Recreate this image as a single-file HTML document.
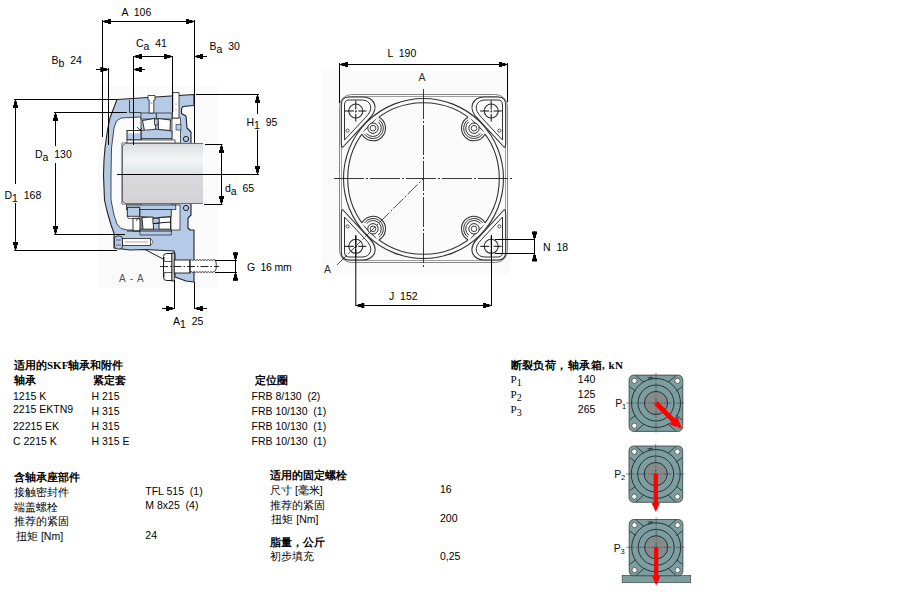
<!DOCTYPE html>
<html><head><meta charset="utf-8"><style>
html,body{margin:0;padding:0;background:#fff;width:900px;height:600px;overflow:hidden}
svg{display:block} text{white-space:pre}
</style></head><body>
<svg width="900" height="600" viewBox="0 0 900 600">
<rect width="900" height="600" fill="#fff"/>
<defs><pattern id="hatch" width="4" height="4" patternUnits="userSpaceOnUse"><rect width="4" height="4" fill="#fbfbfb"/><path d="M0,4 L4,0" stroke="#f1f1f1" stroke-width="0.6" stroke-dasharray="1,0.8"/></pattern></defs><rect x="98" y="86" width="120" height="202" fill="url(#hatch)"/>
<polygon points="117,99.5 194,94.5 194,105.5 183,106.5 181.5,108.5 181.5,113.5 186,116 187,128 191,132 191,143 191,204 191,215 188,218 188,228 190,230 194,230 194,282 186,281 175,277 175,254 174,251 145,249.5 130,250 122,249 114,248 114,233 111,225 107,211 104.5,200 103.5,175 104,160 105,148 107.5,130 110,118 113,110" fill="#b4cae6" stroke="#222" stroke-width="1.1" stroke-linejoin="round"/>
<polygon points="141,117 121,118 116.5,121 114,128 111.5,148 111,175 111,200 114,215 117,224 121,228.5 127,230 141,230 141,204 122,204 122,143 141,143" fill="#fafafa" stroke="#222" stroke-width="0.8" stroke-linejoin="round"/>
<path d="M129.5,100 V112.5 H141" fill="none" stroke="#222" stroke-width="0.8"/>
<rect x="172" y="118" width="8.5" height="25" rx="0" fill="#fafafa" stroke="#222" stroke-width="0.7"/>
<rect x="176" y="124.5" width="5" height="5.5" rx="0" fill="#b4cae6" stroke="#222" stroke-width="0.6"/>
<rect x="171" y="205" width="9" height="25" rx="0" fill="#fafafa" stroke="#222" stroke-width="0.7"/>
<rect x="141" y="113" width="31" height="6" rx="0" fill="#b4cae6" stroke="#1a1a1a" stroke-width="0.7"/>
<path d="M142.5,120.5 L154.5,118.5 L156,129 L144.5,131 Z" fill="#fff" stroke="#1a1a1a" stroke-width="0.9"/>
<path d="M158,118.5 L170.5,120 L170,130.5 L158.5,129.5 Z" fill="#fff" stroke="#1a1a1a" stroke-width="0.9"/>
<path d="M154.5,119 h3.5 v6 h-3.5 z" fill="#b4cae6" stroke="#1a1a1a" stroke-width="0.7"/>
<line x1="156.3" y1="113" x2="156.3" y2="119" stroke="#1a1a1a" stroke-width="0.9" />
<path d="M141,130.5 Q156,128 172,131 V138.5 H141 Z" fill="#b4cae6" stroke="#1a1a1a" stroke-width="0.7"/>
<rect x="127" y="130.5" width="14" height="9.5" rx="0" fill="#b4cae6" stroke="#1a1a1a" stroke-width="0.9"/>
<rect x="128" y="131" width="12" height="2.2" rx="0" fill="#fff" stroke="none" stroke-width="0"/>
<rect x="127" y="140" width="48" height="3" rx="0" fill="#fff" stroke="#1a1a1a" stroke-width="0.7"/>
<path d="M137,127 l3,3 l2,-2" fill="none" stroke="#1a1a1a" stroke-width="0.8"/>
<rect x="126.3" y="205" width="49.5" height="4.7" rx="0" fill="#b4cae6" stroke="#1a1a1a" stroke-width="0.7"/>
<rect x="127.3" y="207.3" width="12.4" height="9" rx="0" fill="#b4cae6" stroke="#1a1a1a" stroke-width="0.9"/>
<rect x="128" y="216.3" width="11" height="2" rx="0" fill="#fff" stroke="#1a1a1a" stroke-width="0.6"/>
<rect x="133" y="218.3" width="7" height="12.7" rx="0" fill="#fff" stroke="#1a1a1a" stroke-width="0.9"/>
<path d="M140,209.5 H171.3 V216.5 Q156,219 140,216.5 Z" fill="#b4cae6" stroke="#1a1a1a" stroke-width="0.7"/>
<path d="M142,217.5 L153,217 L153.5,229.3 L143,229.3 Z" fill="#fff" stroke="#1a1a1a" stroke-width="0.9"/>
<path d="M159,217.5 L170.5,217 L170.5,229.3 L159,229.3 Z" fill="#fff" stroke="#1a1a1a" stroke-width="0.9"/>
<path d="M153,218.5 h6 v5 h-6 z" fill="#b4cae6" stroke="#1a1a1a" stroke-width="0.7"/>
<line x1="153" y1="223.5" x2="170.5" y2="222" stroke="#1a1a1a" stroke-width="1.1" />
<path d="M140,229.3 H171.3 V235 H140 Z" fill="#b4cae6" stroke="#1a1a1a" stroke-width="0.7"/>
<line x1="127" y1="231" x2="172" y2="231" stroke="#1a1a1a" stroke-width="0.9" />
<path d="M136,221 l2,-3 l2,2" fill="none" stroke="#1a1a1a" stroke-width="0.8"/>
<path d="M148,95.5 h7 v4.5 h-1.2 v13 h-4.6 v-13 h-1.2 z" fill="#fff" stroke="#222" stroke-width="0.8"/>
<path d="M172.5,92.5 h6.5 v25.5 h-6.5 z" fill="#fff" stroke="#222" stroke-width="0.8"/>
<line x1="172.6" y1="92" x2="172.6" y2="112" stroke="#111" stroke-width="1.2" />
<line x1="150.5" y1="103" x2="152.5" y2="103" stroke="#222" stroke-width="0.6" />
<line x1="175" y1="104" x2="177" y2="104" stroke="#555" stroke-width="0.5" />
<line x1="175" y1="110" x2="177" y2="110" stroke="#555" stroke-width="0.5" />
<circle cx="186" cy="139" r="2.6" fill="none" stroke="#222" stroke-width="1"/>
<circle cx="186" cy="208" r="2.6" fill="none" stroke="#222" stroke-width="1"/>
<rect x="122.5" y="238.5" width="28" height="7" rx="0" fill="#fff" stroke="#222" stroke-width="0.8"/>
<line x1="125" y1="242" x2="148" y2="242" stroke="#555" stroke-width="0.5" />
<polygon points="150.5,238.5 153,242 150.5,245.5" fill="#fff" stroke="#222" stroke-width="0.6"/>
<rect x="114.5" y="236" width="8" height="13" rx="3" fill="#b4cae6" stroke="#222" stroke-width="0.9"/>
<line x1="116" y1="240" x2="121" y2="240" stroke="#222" stroke-width="0.6" />
<line x1="116" y1="245" x2="121" y2="245" stroke="#222" stroke-width="0.6" />
<line x1="145" y1="249.5" x2="164" y2="259.5" stroke="#222" stroke-width="1" />
<defs><linearGradient id="sh" x1="0" y1="0" x2="0" y2="1"><stop offset="0" stop-color="#d6d6d6"/><stop offset="0.15" stop-color="#e2e4e6"/><stop offset="0.55" stop-color="#f2f4f4"/><stop offset="1" stop-color="#e0e4e6"/></linearGradient><linearGradient id="sh2" x1="0" y1="0" x2="0" y2="1"><stop offset="0" stop-color="#dadade"/><stop offset="1" stop-color="#d2d2d4"/></linearGradient></defs>
<rect x="122.5" y="143" width="80.5" height="31" fill="url(#sh)"/>
<rect x="122.5" y="174" width="80.5" height="30" fill="url(#sh2)"/>
<path d="M125,143.5 H203 M122.5,146 V201 M125,203.5 H203" stroke="#555" stroke-width="0.8" fill="none"/>
<path d="M122.5,146 L125,143.5 M122.5,201 L125,203.5" stroke="#444" stroke-width="0.8"/>
<path d="M166.5,253.5 h5.5 v27 h-5.5 q-3,0 -3,-3 v-21 q0,-3 3,-3 z" fill="#fff" stroke="#1a1a1a" stroke-width="1"/>
<line x1="163.5" y1="261.5" x2="172" y2="261.5" stroke="#333" stroke-width="0.8" />
<line x1="163.5" y1="272.5" x2="172" y2="272.5" stroke="#333" stroke-width="0.8" />
<path d="M165,257 q-1.5,3 0,4.5 M165,273 q-1.5,3 0,4.5" fill="none" stroke="#333" stroke-width="0.6"/>
<rect x="172" y="253" width="2.2" height="28" rx="0" fill="#fff" stroke="#111" stroke-width="0.9"/>
<rect x="174.2" y="260" width="15.8" height="13" rx="0" fill="#fff" stroke="#1a1a1a" stroke-width="0.9"/>
<path d="M190,260.5 l1.4,-0.9 l1.4,0.9 l1.4,-0.9 l1.4,0.9 l1.4,-0.9 l1.4,0.9 l1.4,-0.9 l1.4,0.9 l1.4,-0.9 l1.4,0.9 l1.4,-0.9 l1.4,0.9 l1.4,-0.9 l1.4,0.9 l1.4,-0.9 l1.4,0.9 l1.4,-0.9 q2.5,0 2.5,6 q0,6 -2.5,6 l-1.4,0.9 l-1.4,-0.9 l-1.4,0.9 l-1.4,-0.9 l-1.4,0.9 l-1.4,-0.9 l-1.4,0.9 l-1.4,-0.9 l-1.4,0.9 l-1.4,-0.9 l-1.4,0.9 l-1.4,-0.9 l-1.4,0.9 l-1.4,-0.9 l-1.4,0.9 l-1.4,-0.9 l-1.4,0.9z" fill="#fff" stroke="#222" stroke-width="0.9"/>
<line x1="190" y1="260" x2="190" y2="273" stroke="#222" stroke-width="0.9" />
<line x1="160" y1="266.5" x2="219" y2="266.5" stroke="#111" stroke-width="0.9" stroke-dasharray="8,2,1.5,2"/>
<text x="119" y="281.5" font-family="Liberation Sans, sans-serif" font-size="10" font-weight="normal" fill="#555" letter-spacing="0.9">A - A</text>
<line x1="102.5" y1="20" x2="102.5" y2="137" stroke="#000" stroke-width="1" />
<line x1="194.5" y1="20" x2="194.5" y2="143" stroke="#000" stroke-width="1" />
<line x1="102.5" y1="21.5" x2="194.5" y2="21.5" stroke="#000" stroke-width="1" />
<polygon points="103.00,21.80 104.50,22.10 104.50,23.00 108.00,23.00 108.00,24.00 111.00,24.00 111.00,19.00 108.00,19.00 108.00,20.00 104.50,20.00 104.50,20.90 103.00,21.20" fill="#000"/>
<polygon points="194.00,21.80 192.50,22.10 192.50,23.00 189.00,23.00 189.00,24.00 186.00,24.00 186.00,19.00 189.00,19.00 189.00,20.00 192.50,20.00 192.50,20.90 194.00,21.20" fill="#000"/>
<text x="121.5" y="16" font-family="Liberation Sans, sans-serif" font-size="10.5" font-weight="normal" fill="#000" >A  106</text>
<line x1="108.5" y1="68" x2="108.5" y2="145" stroke="#000" stroke-width="1" />
<line x1="96" y1="69.5" x2="108.5" y2="69.5" stroke="#000" stroke-width="1" />
<polygon points="108.30,69.80 106.80,70.10 106.80,71.00 103.30,71.00 103.30,72.00 100.30,72.00 100.30,67.00 103.30,67.00 103.30,68.00 106.80,68.00 106.80,68.90 108.30,69.20" fill="#000"/>
<text x="51.5" y="64" font-family="Liberation Sans, sans-serif" font-size="10.5" fill="#000">B<tspan dy="3">b</tspan><tspan dy="-3">  24</tspan></text>
<line x1="133.5" y1="56" x2="133.5" y2="145" stroke="#000" stroke-width="1" />
<line x1="172.5" y1="56" x2="172.5" y2="112" stroke="#000" stroke-width="1" />
<line x1="133.5" y1="56.5" x2="172.5" y2="56.5" stroke="#000" stroke-width="1" />
<polygon points="134.00,56.80 135.50,57.10 135.50,58.00 139.00,58.00 139.00,59.00 142.00,59.00 142.00,54.00 139.00,54.00 139.00,55.00 135.50,55.00 135.50,55.90 134.00,56.20" fill="#000"/>
<polygon points="172.00,56.80 170.50,57.10 170.50,58.00 167.00,58.00 167.00,59.00 164.00,59.00 164.00,54.00 167.00,54.00 167.00,55.00 170.50,55.00 170.50,55.90 172.00,56.20" fill="#000"/>
<text x="136" y="47" font-family="Liberation Sans, sans-serif" font-size="10.5" fill="#000">C<tspan dy="3">a</tspan><tspan dy="-3">  41</tspan></text>
<line x1="133.5" y1="69.5" x2="145" y2="69.5" stroke="#000" stroke-width="1" />
<polygon points="134.00,69.80 135.50,70.10 135.50,71.00 139.00,71.00 139.00,72.00 142.00,72.00 142.00,67.00 139.00,67.00 139.00,68.00 135.50,68.00 135.50,68.90 134.00,69.20" fill="#000"/>
<line x1="194.5" y1="56.5" x2="207" y2="56.5" stroke="#000" stroke-width="1" />
<polygon points="195.00,56.80 196.50,57.10 196.50,58.00 200.00,58.00 200.00,59.00 203.00,59.00 203.00,54.00 200.00,54.00 200.00,55.00 196.50,55.00 196.50,55.90 195.00,56.20" fill="#000"/>
<text x="209.5" y="50" font-family="Liberation Sans, sans-serif" font-size="10.5" fill="#000">B<tspan dy="3">a</tspan><tspan dy="-3">  30</tspan></text>
<line x1="196" y1="94.5" x2="259" y2="94.5" stroke="#000" stroke-width="1" />
<line x1="117" y1="174.5" x2="259" y2="174.5" stroke="#000" stroke-width="1" />
<line x1="257.5" y1="95" x2="257.5" y2="114" stroke="#000" stroke-width="1" />
<line x1="257.5" y1="130" x2="257.5" y2="174" stroke="#000" stroke-width="1" />
<polygon points="257.80,95.00 258.10,96.50 259.00,96.50 259.00,100.00 260.00,100.00 260.00,103.00 255.00,103.00 255.00,100.00 256.00,100.00 256.00,96.50 256.90,96.50 257.20,95.00" fill="#000"/>
<polygon points="257.80,174.00 258.10,172.50 259.00,172.50 259.00,169.00 260.00,169.00 260.00,166.00 255.00,166.00 255.00,169.00 256.00,169.00 256.00,172.50 256.90,172.50 257.20,174.00" fill="#000"/>
<text x="246.5" y="126" font-family="Liberation Sans, sans-serif" font-size="10.5" fill="#000">H<tspan dy="3">1</tspan><tspan dy="-3">  95</tspan></text>
<line x1="205" y1="144.5" x2="222.5" y2="144.5" stroke="#000" stroke-width="1" />
<line x1="204" y1="204.5" x2="222.5" y2="204.5" stroke="#000" stroke-width="1" />
<line x1="221.5" y1="145" x2="221.5" y2="204" stroke="#000" stroke-width="1" />
<polygon points="221.80,145.00 222.10,146.50 223.00,146.50 223.00,150.00 224.00,150.00 224.00,153.00 219.00,153.00 219.00,150.00 220.00,150.00 220.00,146.50 220.90,146.50 221.20,145.00" fill="#000"/>
<polygon points="221.80,204.00 222.10,202.50 223.00,202.50 223.00,199.00 224.00,199.00 224.00,196.00 219.00,196.00 219.00,199.00 220.00,199.00 220.00,202.50 220.90,202.50 221.20,204.00" fill="#000"/>
<text x="225" y="192" font-family="Liberation Sans, sans-serif" font-size="10.5" fill="#000">d<tspan dy="3">a</tspan><tspan dy="-3">  65</tspan></text>
<line x1="14" y1="99.5" x2="117" y2="99.5" stroke="#000" stroke-width="1" />
<line x1="14" y1="250.5" x2="117" y2="250.5" stroke="#000" stroke-width="1" />
<line x1="15.5" y1="100" x2="15.5" y2="184" stroke="#000" stroke-width="1" />
<line x1="15.5" y1="203" x2="15.5" y2="250" stroke="#000" stroke-width="1" />
<polygon points="15.80,100.00 16.10,101.50 17.00,101.50 17.00,105.00 18.00,105.00 18.00,108.00 13.00,108.00 13.00,105.00 14.00,105.00 14.00,101.50 14.90,101.50 15.20,100.00" fill="#000"/>
<polygon points="15.80,250.00 16.10,248.50 17.00,248.50 17.00,245.00 18.00,245.00 18.00,242.00 13.00,242.00 13.00,245.00 14.00,245.00 14.00,248.50 14.90,248.50 15.20,250.00" fill="#000"/>
<text x="4.5" y="199" font-family="Liberation Sans, sans-serif" font-size="10.5" fill="#000">D<tspan dy="3">1</tspan><tspan dy="-3">  168</tspan></text>
<line x1="54" y1="112.5" x2="127" y2="112.5" stroke="#000" stroke-width="1" />
<line x1="54" y1="234.5" x2="125" y2="234.5" stroke="#000" stroke-width="1" />
<line x1="55.5" y1="113" x2="55.5" y2="146" stroke="#000" stroke-width="1" />
<line x1="55.5" y1="163" x2="55.5" y2="234" stroke="#000" stroke-width="1" />
<polygon points="55.80,113.00 56.10,114.50 57.00,114.50 57.00,118.00 58.00,118.00 58.00,121.00 53.00,121.00 53.00,118.00 54.00,118.00 54.00,114.50 54.90,114.50 55.20,113.00" fill="#000"/>
<polygon points="55.80,234.00 56.10,232.50 57.00,232.50 57.00,229.00 58.00,229.00 58.00,226.00 53.00,226.00 53.00,229.00 54.00,229.00 54.00,232.50 54.90,232.50 55.20,234.00" fill="#000"/>
<text x="35" y="158" font-family="Liberation Sans, sans-serif" font-size="10.5" fill="#000">D<tspan dy="3">a</tspan><tspan dy="-3">  130</tspan></text>
<line x1="215" y1="260.5" x2="237" y2="260.5" stroke="#000" stroke-width="1" />
<line x1="215" y1="272.5" x2="237" y2="272.5" stroke="#000" stroke-width="1" />
<line x1="235.5" y1="252" x2="235.5" y2="281" stroke="#000" stroke-width="1" />
<polygon points="235.80,260.30 236.10,258.80 237.00,258.80 237.00,255.30 238.00,255.30 238.00,252.30 233.00,252.30 233.00,255.30 234.00,255.30 234.00,258.80 234.90,258.80 235.20,260.30" fill="#000"/>
<polygon points="235.80,272.70 236.10,274.20 237.00,274.20 237.00,277.70 238.00,277.70 238.00,280.70 233.00,280.70 233.00,277.70 234.00,277.70 234.00,274.20 234.90,274.20 235.20,272.70" fill="#000"/>
<text x="247" y="270.5" font-family="Liberation Sans, sans-serif" font-size="10.5" font-weight="normal" fill="#000" letter-spacing="-0.2">G  16 mm</text>
<line x1="174.5" y1="280" x2="174.5" y2="309" stroke="#000" stroke-width="1" />
<line x1="194.5" y1="282" x2="194.5" y2="309" stroke="#000" stroke-width="1" />
<line x1="162" y1="308.5" x2="174.5" y2="308.5" stroke="#000" stroke-width="1" />
<polygon points="174.00,308.80 172.50,309.10 172.50,310.00 169.00,310.00 169.00,311.00 166.00,311.00 166.00,306.00 169.00,306.00 169.00,307.00 172.50,307.00 172.50,307.90 174.00,308.20" fill="#000"/>
<line x1="194.5" y1="308.5" x2="207" y2="308.5" stroke="#000" stroke-width="1" />
<polygon points="195.00,308.80 196.50,309.10 196.50,310.00 200.00,310.00 200.00,311.00 203.00,311.00 203.00,306.00 200.00,306.00 200.00,307.00 196.50,307.00 196.50,307.90 195.00,308.20" fill="#000"/>
<text x="173" y="325" font-family="Liberation Sans, sans-serif" font-size="10.5" fill="#000">A<tspan dy="3">1</tspan><tspan dy="-3">  25</tspan></text>
<rect x="322" y="71" width="188" height="204" fill="url(#hatch)"/>
<rect x="339.5" y="94.5" width="168" height="168" rx="12" fill="url(#hatch)" stroke="#777" stroke-width="0.9"/>
<rect x="341.5" y="96.5" width="164" height="164" rx="10" fill="none" stroke="#888" stroke-width="0.8"/>
<circle cx="423.5" cy="178.5" r="80" fill="none" stroke="#333" stroke-width="1.1"/>
<circle cx="423.5" cy="178.5" r="75.8" fill="none" stroke="#333" stroke-width="1.1"/>
<g transform="translate(423.5,178.5) scale(1,-1) translate(-423.5,-178.5)">
<path d="M343.5,210.5 L369,238 Q377,246 374.5,253 Q371.5,260 363,260 L349,260 Q341.3,260 341.3,252 L341.3,214 Q341.5,208 343.5,210.5 Z" fill="url(#hatch)" stroke="#333" stroke-width="1.1"/>
<path d="M344.5,217 L365.5,239.5 Q372,246 370.5,251.5 Q368.5,257 362,257 L349,257 Q344.5,257 344.5,252 Z" fill="none" stroke="#333" stroke-width="1"/>
<circle cx="347.6" cy="226.4" r="1.6" fill="none" stroke="#333" stroke-width="0.8"/>
</g>
<g transform="translate(423.5,178.5) scale(1,1) translate(-423.5,-178.5)">
<path d="M343.5,210.5 L369,238 Q377,246 374.5,253 Q371.5,260 363,260 L349,260 Q341.3,260 341.3,252 L341.3,214 Q341.5,208 343.5,210.5 Z" fill="url(#hatch)" stroke="#333" stroke-width="1.1"/>
<path d="M344.5,217 L365.5,239.5 Q372,246 370.5,251.5 Q368.5,257 362,257 L349,257 Q344.5,257 344.5,252 Z" fill="none" stroke="#333" stroke-width="1"/>
<circle cx="347.6" cy="226.4" r="1.6" fill="none" stroke="#333" stroke-width="0.8"/>
</g>
<g transform="translate(423.5,178.5) scale(-1,-1) translate(-423.5,-178.5)">
<path d="M343.5,210.5 L369,238 Q377,246 374.5,253 Q371.5,260 363,260 L349,260 Q341.3,260 341.3,252 L341.3,214 Q341.5,208 343.5,210.5 Z" fill="url(#hatch)" stroke="#333" stroke-width="1.1"/>
<path d="M344.5,217 L365.5,239.5 Q372,246 370.5,251.5 Q368.5,257 362,257 L349,257 Q344.5,257 344.5,252 Z" fill="none" stroke="#333" stroke-width="1"/>
<circle cx="347.6" cy="226.4" r="1.6" fill="none" stroke="#333" stroke-width="0.8"/>
</g>
<g transform="translate(423.5,178.5) scale(-1,1) translate(-423.5,-178.5)">
<path d="M343.5,210.5 L369,238 Q377,246 374.5,253 Q371.5,260 363,260 L349,260 Q341.3,260 341.3,252 L341.3,214 Q341.5,208 343.5,210.5 Z" fill="url(#hatch)" stroke="#333" stroke-width="1.1"/>
<path d="M344.5,217 L365.5,239.5 Q372,246 370.5,251.5 Q368.5,257 362,257 L349,257 Q344.5,257 344.5,252 Z" fill="none" stroke="#333" stroke-width="1"/>
<circle cx="347.6" cy="226.4" r="1.6" fill="none" stroke="#333" stroke-width="0.8"/>
</g>
<path d="M378.92,117.19 A12.5,12.5 0 1 1 362.02,134.17 A75.8,75.8 0 0 0 378.92,117.19 Z" fill="url(#hatch)" stroke="none"/>
<path d="M378.92,117.19 A75.8,75.8 0 0 1 362.02,134.17" fill="none" stroke="#fbfbfb" stroke-width="2.2"/>
<path d="M378.92,117.19 A12.5,12.5 0 1 1 362.02,134.17" fill="none" stroke="#333" stroke-width="1.1"/>
<path d="M378.89,119.75 A10.3,10.3 0 1 1 364.57,134.12" fill="none" stroke="#333" stroke-width="1"/>
<path d="M378.32,121.83 A8.3,8.3 0 1 1 366.65,133.55" fill="none" stroke="#333" stroke-width="1"/>
<circle cx="373.0" cy="128.2" r="5.2" fill="url(#hatch)" stroke="#333" stroke-width="1"/>
<circle cx="373.0" cy="128.2" r="2.8" fill="none" stroke="#333" stroke-width="0.9"/>
<path d="M362.02,222.83 A12.5,12.5 0 1 1 378.92,239.81 A75.8,75.8 0 0 0 362.02,222.83 Z" fill="url(#hatch)" stroke="none"/>
<path d="M362.02,222.83 A75.8,75.8 0 0 1 378.92,239.81" fill="none" stroke="#fbfbfb" stroke-width="2.2"/>
<path d="M362.02,222.83 A12.5,12.5 0 1 1 378.92,239.81" fill="none" stroke="#333" stroke-width="1.1"/>
<path d="M364.57,222.88 A10.3,10.3 0 1 1 378.89,237.25" fill="none" stroke="#333" stroke-width="1"/>
<path d="M366.65,223.45 A8.3,8.3 0 1 1 378.32,235.17" fill="none" stroke="#333" stroke-width="1"/>
<circle cx="373.0" cy="228.8" r="5.2" fill="url(#hatch)" stroke="#333" stroke-width="1"/>
<circle cx="373.0" cy="228.8" r="2.8" fill="none" stroke="#333" stroke-width="0.9"/>
<path d="M484.98,134.17 A12.5,12.5 0 1 1 468.08,117.19 A75.8,75.8 0 0 0 484.98,134.17 Z" fill="url(#hatch)" stroke="none"/>
<path d="M484.98,134.17 A75.8,75.8 0 0 1 468.08,117.19" fill="none" stroke="#fbfbfb" stroke-width="2.2"/>
<path d="M484.98,134.17 A12.5,12.5 0 1 1 468.08,117.19" fill="none" stroke="#333" stroke-width="1.1"/>
<path d="M482.43,134.12 A10.3,10.3 0 1 1 468.11,119.75" fill="none" stroke="#333" stroke-width="1"/>
<path d="M480.35,133.55 A8.3,8.3 0 1 1 468.68,121.83" fill="none" stroke="#333" stroke-width="1"/>
<circle cx="474.0" cy="128.2" r="5.2" fill="url(#hatch)" stroke="#333" stroke-width="1"/>
<circle cx="474.0" cy="128.2" r="2.8" fill="none" stroke="#333" stroke-width="0.9"/>
<path d="M468.08,239.81 A12.5,12.5 0 1 1 484.98,222.83 A75.8,75.8 0 0 0 468.08,239.81 Z" fill="url(#hatch)" stroke="none"/>
<path d="M468.08,239.81 A75.8,75.8 0 0 1 484.98,222.83" fill="none" stroke="#fbfbfb" stroke-width="2.2"/>
<path d="M468.08,239.81 A12.5,12.5 0 1 1 484.98,222.83" fill="none" stroke="#333" stroke-width="1.1"/>
<path d="M468.11,237.25 A10.3,10.3 0 1 1 482.43,222.88" fill="none" stroke="#333" stroke-width="1"/>
<path d="M468.68,235.17 A8.3,8.3 0 1 1 480.35,223.45" fill="none" stroke="#333" stroke-width="1"/>
<circle cx="474.0" cy="228.8" r="5.2" fill="url(#hatch)" stroke="#333" stroke-width="1"/>
<circle cx="474.0" cy="228.8" r="2.8" fill="none" stroke="#333" stroke-width="0.9"/>
<circle cx="355.8" cy="111" r="7" fill="url(#hatch)" stroke="#333" stroke-width="1.1"/>
<line x1="344.8" y1="111" x2="366.3" y2="111" stroke="#111" stroke-width="1" stroke-dasharray="9,1.5,1.5,1.5,9"/>
<line x1="355.8" y1="100.5" x2="355.8" y2="121.5" stroke="#111" stroke-width="1" stroke-dasharray="9,1.5,1.5,1.5,9"/>
<circle cx="355.8" cy="246.3" r="7" fill="url(#hatch)" stroke="#333" stroke-width="1.1"/>
<line x1="344.8" y1="246.3" x2="366.3" y2="246.3" stroke="#111" stroke-width="1" stroke-dasharray="9,1.5,1.5,1.5,9"/>
<line x1="355.8" y1="235.8" x2="355.8" y2="256.8" stroke="#111" stroke-width="1" stroke-dasharray="9,1.5,1.5,1.5,9"/>
<circle cx="491.2" cy="111" r="7" fill="url(#hatch)" stroke="#333" stroke-width="1.1"/>
<line x1="480.2" y1="111" x2="501.7" y2="111" stroke="#111" stroke-width="1" stroke-dasharray="9,1.5,1.5,1.5,9"/>
<line x1="491.2" y1="100.5" x2="491.2" y2="121.5" stroke="#111" stroke-width="1" stroke-dasharray="9,1.5,1.5,1.5,9"/>
<circle cx="491.2" cy="246.3" r="7" fill="url(#hatch)" stroke="#333" stroke-width="1.1"/>
<line x1="480.2" y1="246.3" x2="501.7" y2="246.3" stroke="#111" stroke-width="1" stroke-dasharray="9,1.5,1.5,1.5,9"/>
<line x1="491.2" y1="235.8" x2="491.2" y2="256.8" stroke="#111" stroke-width="1" stroke-dasharray="9,1.5,1.5,1.5,9"/>
<line x1="334" y1="178.5" x2="513" y2="178.5" stroke="#222" stroke-width="0.9" stroke-dasharray="30,2,2,2"/>
<line x1="423.5" y1="89" x2="423.5" y2="268" stroke="#222" stroke-width="0.9" stroke-dasharray="30,2,2,2"/>
<line x1="337" y1="265" x2="423.5" y2="178.5" stroke="#222" stroke-width="0.8" stroke-dasharray="14,2,2,2"/>
<text x="418.5" y="81" font-family="Liberation Sans, sans-serif" font-size="10.5" font-weight="normal" fill="#333" >A</text>
<text x="324" y="272.5" font-family="Liberation Sans, sans-serif" font-size="10.5" font-weight="normal" fill="#333" >A</text>
<line x1="339.5" y1="63" x2="339.5" y2="103" stroke="#000" stroke-width="1" />
<line x1="507.5" y1="63" x2="507.5" y2="102" stroke="#000" stroke-width="1" />
<line x1="339.5" y1="64.5" x2="507.5" y2="64.5" stroke="#000" stroke-width="1" />
<polygon points="340.00,64.80 341.50,65.10 341.50,66.00 345.00,66.00 345.00,67.00 348.00,67.00 348.00,62.00 345.00,62.00 345.00,63.00 341.50,63.00 341.50,63.90 340.00,64.20" fill="#000"/>
<polygon points="507.00,64.80 505.50,65.10 505.50,66.00 502.00,66.00 502.00,67.00 499.00,67.00 499.00,62.00 502.00,62.00 502.00,63.00 505.50,63.00 505.50,63.90 507.00,64.20" fill="#000"/>
<text x="387.5" y="56.5" font-family="Liberation Sans, sans-serif" font-size="10.5" font-weight="normal" fill="#000" >L  190</text>
<line x1="355.8" y1="235" x2="355.8" y2="306" stroke="#000" stroke-width="1" />
<line x1="491.5" y1="235" x2="491.5" y2="306" stroke="#000" stroke-width="1" />
<line x1="355.8" y1="305.5" x2="491.5" y2="305.5" stroke="#000" stroke-width="1" />
<polygon points="356.30,305.80 357.80,306.10 357.80,307.00 361.30,307.00 361.30,308.00 364.30,308.00 364.30,303.00 361.30,303.00 361.30,304.00 357.80,304.00 357.80,304.90 356.30,305.20" fill="#000"/>
<polygon points="491.00,305.80 489.50,306.10 489.50,307.00 486.00,307.00 486.00,308.00 483.00,308.00 483.00,303.00 486.00,303.00 486.00,304.00 489.50,304.00 489.50,304.90 491.00,305.20" fill="#000"/>
<text x="389" y="300" font-family="Liberation Sans, sans-serif" font-size="10.5" font-weight="normal" fill="#000" >J  152</text>
<line x1="495" y1="239.5" x2="535" y2="239.5" stroke="#000" stroke-width="1" />
<line x1="495" y1="253.5" x2="535" y2="253.5" stroke="#000" stroke-width="1" />
<line x1="534.5" y1="231" x2="534.5" y2="261" stroke="#000" stroke-width="1" />
<polygon points="534.80,239.50 535.10,238.00 536.00,238.00 536.00,234.50 537.00,234.50 537.00,231.50 532.00,231.50 532.00,234.50 533.00,234.50 533.00,238.00 533.90,238.00 534.20,239.50" fill="#000"/>
<polygon points="534.80,253.50 535.10,255.00 536.00,255.00 536.00,258.50 537.00,258.50 537.00,261.50 532.00,261.50 532.00,258.50 533.00,258.50 533.00,255.00 533.90,255.00 534.20,253.50" fill="#000"/>
<text x="543" y="251" font-family="Liberation Sans, sans-serif" font-size="10.5" font-weight="normal" fill="#000" >N  18</text>
<text x="14" y="368.5" font-family="Liberation Serif, sans-serif" font-size="11" font-weight="bold" fill="#000" >适用的SKF轴承和附件</text>
<text x="14" y="383.5" font-family="Liberation Serif, sans-serif" font-size="11" font-weight="bold" fill="#000" >轴承</text>
<text x="93" y="383.5" font-family="Liberation Serif, sans-serif" font-size="11" font-weight="bold" fill="#000" >紧定套</text>
<text x="255" y="383.5" font-family="Liberation Serif, sans-serif" font-size="11" font-weight="bold" fill="#000" >定位圈</text>
<text x="13" y="400" font-family="Liberation Sans, sans-serif" font-size="10.5" font-weight="normal" fill="#000" >1215 K</text>
<text x="91.5" y="400" font-family="Liberation Sans, sans-serif" font-size="10.5" font-weight="normal" fill="#000" >H 215</text>
<text x="251.5" y="400" font-family="Liberation Sans, sans-serif" font-size="10.5" font-weight="normal" fill="#000" >FRB 8/130  (2)</text>
<text x="13" y="413" font-family="Liberation Sans, sans-serif" font-size="10.5" font-weight="normal" fill="#000" >2215 EKTN9</text>
<text x="91.5" y="415" font-family="Liberation Sans, sans-serif" font-size="10.5" font-weight="normal" fill="#000" >H 315</text>
<text x="251.5" y="415" font-family="Liberation Sans, sans-serif" font-size="10.5" font-weight="normal" fill="#000" >FRB 10/130  (1)</text>
<text x="13" y="430" font-family="Liberation Sans, sans-serif" font-size="10.5" font-weight="normal" fill="#000" >22215 EK</text>
<text x="91.5" y="430" font-family="Liberation Sans, sans-serif" font-size="10.5" font-weight="normal" fill="#000" >H 315</text>
<text x="251.5" y="430" font-family="Liberation Sans, sans-serif" font-size="10.5" font-weight="normal" fill="#000" >FRB 10/130  (1)</text>
<text x="13" y="445" font-family="Liberation Sans, sans-serif" font-size="10.5" font-weight="normal" fill="#000" >C 2215 K</text>
<text x="91.5" y="445" font-family="Liberation Sans, sans-serif" font-size="10.5" font-weight="normal" fill="#000" >H 315 E</text>
<text x="251.5" y="445" font-family="Liberation Sans, sans-serif" font-size="10.5" font-weight="normal" fill="#000" >FRB 10/130  (1)</text>
<text x="14" y="481" font-family="Liberation Serif, sans-serif" font-size="11" font-weight="bold" fill="#000" >含轴承座部件</text>
<text x="14" y="495.5" font-family="Liberation Sans, sans-serif" font-size="10.5" font-weight="normal" fill="#000" >接触密封件</text>
<text x="14" y="510.5" font-family="Liberation Sans, sans-serif" font-size="10.5" font-weight="normal" fill="#000" >端盖螺栓</text>
<text x="14" y="525" font-family="Liberation Sans, sans-serif" font-size="10.5" font-weight="normal" fill="#000" >推荐的紧固</text>
<text x="16" y="540" font-family="Liberation Sans, sans-serif" font-size="10.5" font-weight="normal" fill="#000" >扭矩 [Nm]</text>
<text x="145.3" y="494.5" font-family="Liberation Sans, sans-serif" font-size="10.5" font-weight="normal" fill="#000" >TFL 515  (1)</text>
<text x="145.3" y="509" font-family="Liberation Sans, sans-serif" font-size="10.5" font-weight="normal" fill="#000" >M 8x25  (4)</text>
<text x="145.3" y="538.5" font-family="Liberation Sans, sans-serif" font-size="10.5" font-weight="normal" fill="#000" >24</text>
<text x="270" y="479" font-family="Liberation Serif, sans-serif" font-size="11" font-weight="bold" fill="#000" >适用的固定螺栓</text>
<text x="270" y="494" font-family="Liberation Sans, sans-serif" font-size="10.5" font-weight="normal" fill="#000" >尺寸 [毫米]</text>
<text x="270" y="508.5" font-family="Liberation Sans, sans-serif" font-size="10.5" font-weight="normal" fill="#000" >推荐的紧固</text>
<text x="271.3" y="523" font-family="Liberation Sans, sans-serif" font-size="10.5" font-weight="normal" fill="#000" >扭矩 [Nm]</text>
<text x="270" y="546" font-family="Liberation Serif, sans-serif" font-size="11" font-weight="bold" fill="#000" >脂量，公斤</text>
<text x="270" y="560" font-family="Liberation Sans, sans-serif" font-size="10.5" font-weight="normal" fill="#000" >初步填充</text>
<text x="440" y="493" font-family="Liberation Sans, sans-serif" font-size="10.5" font-weight="normal" fill="#000" >16</text>
<text x="440" y="522" font-family="Liberation Sans, sans-serif" font-size="10.5" font-weight="normal" fill="#000" >200</text>
<text x="440" y="560" font-family="Liberation Sans, sans-serif" font-size="10.5" font-weight="normal" fill="#000" >0,25</text>
<text x="510.5" y="368.5" font-family="Liberation Serif, sans-serif" font-size="11" font-weight="bold" fill="#000" letter-spacing="0.45">断裂负荷，轴承箱, kN</text>
<text x="510.5" y="383" font-family="Liberation Serif, serif" font-size="11">P<tspan dy="3" font-size="10">1</tspan></text>
<text x="577.8" y="383" font-family="Liberation Sans, sans-serif" font-size="10.5" font-weight="normal" fill="#000" >140</text>
<text x="510.5" y="397.5" font-family="Liberation Serif, serif" font-size="11">P<tspan dy="3" font-size="10">2</tspan></text>
<text x="577.8" y="397.5" font-family="Liberation Sans, sans-serif" font-size="10.5" font-weight="normal" fill="#000" >125</text>
<text x="510.5" y="412.5" font-family="Liberation Serif, serif" font-size="11">P<tspan dy="3" font-size="10">3</tspan></text>
<text x="577.8" y="412.5" font-family="Liberation Sans, sans-serif" font-size="10.5" font-weight="normal" fill="#000" >265</text>
<rect x="629.1" y="375.1" width="53.7" height="56.3" rx="4.6" fill="#7c9e9e" stroke="#3a3a3a" stroke-width="0.8"/>
<line x1="636.1" y1="375.6" x2="643.6" y2="382.1" stroke="#1f2535" stroke-width="0.8" />
<line x1="629.6" y1="386.6" x2="635.6" y2="391.1" stroke="#1f2535" stroke-width="0.8" />
<circle cx="634.4" cy="380.8" r="2.6" fill="#fff" stroke="#333" stroke-width="0.7"/>
<line x1="636.1" y1="430.9" x2="643.6" y2="424.4" stroke="#1f2535" stroke-width="0.8" />
<line x1="629.6" y1="419.9" x2="635.6" y2="415.4" stroke="#1f2535" stroke-width="0.8" />
<circle cx="634.4" cy="425.7" r="2.6" fill="#fff" stroke="#333" stroke-width="0.7"/>
<line x1="675.8" y1="375.6" x2="668.3" y2="382.1" stroke="#1f2535" stroke-width="0.8" />
<line x1="682.3" y1="386.6" x2="676.3" y2="391.1" stroke="#1f2535" stroke-width="0.8" />
<circle cx="677.5" cy="380.8" r="2.6" fill="#fff" stroke="#333" stroke-width="0.7"/>
<line x1="675.8" y1="430.9" x2="668.3" y2="424.4" stroke="#1f2535" stroke-width="0.8" />
<line x1="682.3" y1="419.9" x2="676.3" y2="415.4" stroke="#1f2535" stroke-width="0.8" />
<circle cx="677.5" cy="425.7" r="2.6" fill="#fff" stroke="#333" stroke-width="0.7"/>
<circle cx="656" cy="403" r="24.5" fill="none" stroke="#1f2535" stroke-width="0.9"/>
<circle cx="656" cy="403" r="18" fill="none" stroke="#1f2535" stroke-width="0.9"/>
<circle cx="656" cy="403" r="11.6" fill="#858a8a" stroke="#1f2535" stroke-width="0.9"/>
<line x1="626.1" y1="403" x2="685.8000000000001" y2="403" stroke="#3a4040" stroke-width="0.6" stroke-dasharray="8,1.5,1.5,1.5"/>
<line x1="656" y1="373.1" x2="656" y2="433.40000000000003" stroke="#3a4040" stroke-width="0.6" stroke-dasharray="8,1.5,1.5,1.5"/>
<path d="M648.1,379.6 l3,-3 M649.6,380.1 l3,-3 M647.6,377.6 h5" stroke="#222" stroke-width="0.7" fill="none"/>
<text x="615.2" y="406.7" font-family="Liberation Sans, sans-serif" font-size="10.5" fill="#111">P<tspan dy="2.5" dx="-0.3" font-size="7.5">1</tspan></text>
<rect x="622.2" y="575.5" width="68.5" height="7.2" fill="#7c9e9e" stroke="#444" stroke-width="0.7"/>
<rect x="629" y="446" width="53.7" height="56.3" rx="4.6" fill="#7c9e9e" stroke="#3a3a3a" stroke-width="0.8"/>
<line x1="636" y1="446.5" x2="643.5" y2="453" stroke="#1f2535" stroke-width="0.8" />
<line x1="629.5" y1="457.5" x2="635.5" y2="462" stroke="#1f2535" stroke-width="0.8" />
<circle cx="634.3" cy="451.7" r="2.6" fill="#fff" stroke="#333" stroke-width="0.7"/>
<line x1="636" y1="501.8" x2="643.5" y2="495.3" stroke="#1f2535" stroke-width="0.8" />
<line x1="629.5" y1="490.8" x2="635.5" y2="486.3" stroke="#1f2535" stroke-width="0.8" />
<circle cx="634.3" cy="496.6" r="2.6" fill="#fff" stroke="#333" stroke-width="0.7"/>
<line x1="675.7" y1="446.5" x2="668.2" y2="453" stroke="#1f2535" stroke-width="0.8" />
<line x1="682.2" y1="457.5" x2="676.2" y2="462" stroke="#1f2535" stroke-width="0.8" />
<circle cx="677.4" cy="451.7" r="2.6" fill="#fff" stroke="#333" stroke-width="0.7"/>
<line x1="675.7" y1="501.8" x2="668.2" y2="495.3" stroke="#1f2535" stroke-width="0.8" />
<line x1="682.2" y1="490.8" x2="676.2" y2="486.3" stroke="#1f2535" stroke-width="0.8" />
<circle cx="677.4" cy="496.6" r="2.6" fill="#fff" stroke="#333" stroke-width="0.7"/>
<circle cx="655.7" cy="474" r="24.5" fill="none" stroke="#1f2535" stroke-width="0.9"/>
<circle cx="655.7" cy="474" r="18" fill="none" stroke="#1f2535" stroke-width="0.9"/>
<circle cx="655.7" cy="474" r="11.6" fill="#858a8a" stroke="#1f2535" stroke-width="0.9"/>
<line x1="626" y1="474" x2="685.7" y2="474" stroke="#3a4040" stroke-width="0.6" stroke-dasharray="8,1.5,1.5,1.5"/>
<line x1="655.7" y1="444" x2="655.7" y2="504.3" stroke="#3a4040" stroke-width="0.6" stroke-dasharray="8,1.5,1.5,1.5"/>
<path d="M648,450.5 l3,-3 M649.5,451 l3,-3 M647.5,448.5 h5" stroke="#222" stroke-width="0.7" fill="none"/>
<text x="614.2" y="477.7" font-family="Liberation Sans, sans-serif" font-size="10.5" fill="#111">P<tspan dy="2.5" dx="-0.3" font-size="7.5">2</tspan></text>
<rect x="629.2" y="519.5" width="53.7" height="56.3" rx="4.6" fill="#7c9e9e" stroke="#3a3a3a" stroke-width="0.8"/>
<line x1="636.2" y1="520.0" x2="643.7" y2="526.5" stroke="#1f2535" stroke-width="0.8" />
<line x1="629.7" y1="531.0" x2="635.7" y2="535.5" stroke="#1f2535" stroke-width="0.8" />
<circle cx="634.5" cy="525.2" r="2.6" fill="#fff" stroke="#333" stroke-width="0.7"/>
<line x1="636.2" y1="575.3" x2="643.7" y2="568.8" stroke="#1f2535" stroke-width="0.8" />
<line x1="629.7" y1="564.3" x2="635.7" y2="559.8" stroke="#1f2535" stroke-width="0.8" />
<circle cx="634.5" cy="570.1" r="2.6" fill="#fff" stroke="#333" stroke-width="0.7"/>
<line x1="675.9" y1="520.0" x2="668.4" y2="526.5" stroke="#1f2535" stroke-width="0.8" />
<line x1="682.4" y1="531.0" x2="676.4" y2="535.5" stroke="#1f2535" stroke-width="0.8" />
<circle cx="677.6" cy="525.2" r="2.6" fill="#fff" stroke="#333" stroke-width="0.7"/>
<line x1="675.9" y1="575.3" x2="668.4" y2="568.8" stroke="#1f2535" stroke-width="0.8" />
<line x1="682.4" y1="564.3" x2="676.4" y2="559.8" stroke="#1f2535" stroke-width="0.8" />
<circle cx="677.6" cy="570.1" r="2.6" fill="#fff" stroke="#333" stroke-width="0.7"/>
<circle cx="656.2" cy="547.3" r="24.5" fill="none" stroke="#1f2535" stroke-width="0.9"/>
<circle cx="656.2" cy="547.3" r="18" fill="none" stroke="#1f2535" stroke-width="0.9"/>
<circle cx="656.2" cy="547.3" r="11.6" fill="#858a8a" stroke="#1f2535" stroke-width="0.9"/>
<line x1="626.2" y1="547.3" x2="685.9000000000001" y2="547.3" stroke="#3a4040" stroke-width="0.6" stroke-dasharray="8,1.5,1.5,1.5"/>
<line x1="656.2" y1="517.5" x2="656.2" y2="577.8" stroke="#3a4040" stroke-width="0.6" stroke-dasharray="8,1.5,1.5,1.5"/>
<path d="M648.2,524.0 l3,-3 M649.7,524.5 l3,-3 M647.7,522.0 h5" stroke="#222" stroke-width="0.7" fill="none"/>
<text x="613.8" y="551.8" font-family="Liberation Sans, sans-serif" font-size="10.5" fill="#111">P<tspan dy="2.5" dx="-0.3" font-size="7.5">3</tspan></text>
<g transform="translate(656,403) rotate(45)"><rect x="0" y="-2.4" width="27" height="4.8" fill="#ff0000"/><polygon points="36.5,0 25,-5.5 25,5.5" fill="#ff0000"/></g>
<rect x="653.7" y="474" width="4.2" height="30" fill="#ff0000"/><polygon points="651.6,503 659.9,503 655.8,512" fill="#ff0000"/>
<rect x="654.1" y="547.3" width="4.2" height="30" fill="#ff0000"/><polygon points="652,576 660.4,576 656.2,585.5" fill="#ff0000"/>
</svg>
</body></html>
